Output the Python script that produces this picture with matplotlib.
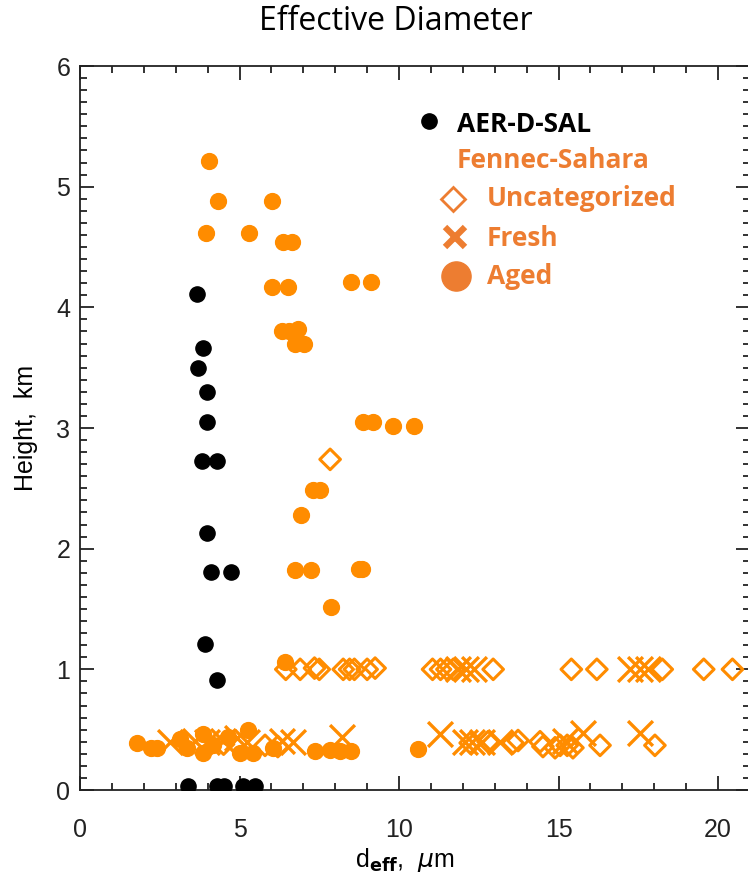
import matplotlib
matplotlib.use("Agg")
import matplotlib.pyplot as plt
from matplotlib.ticker import MultipleLocator

# ---------------- data ----------------
# AER-D-SAL (black)
sal_x = [3.67, 3.86, 3.70, 3.98, 3.98, 3.82, 4.29, 3.98, 4.11, 4.73, 3.92, 4.29,
         3.4, 4.3, 4.5, 5.1, 5.5]
sal_y = [4.11, 3.66, 3.50, 3.30, 3.05, 2.73, 2.73, 2.13, 1.81, 1.81, 1.21, 0.91,
         0.03, 0.03, 0.03, 0.03, 0.03]

# Fennec-Sahara aged (orange circles)
aged_x = [4.04, 4.33, 6.02, 3.95, 5.30, 6.36, 6.65, 6.02, 6.52, 8.50, 9.12,
          6.33, 6.55, 6.83, 6.74, 7.02, 8.87, 9.18, 9.81, 10.47,
          7.30, 7.52, 6.93, 6.74, 7.24, 8.75, 8.84, 7.87, 6.43,
          1.79, 2.22, 2.41, 3.13, 3.35, 3.86, 3.86, 4.17, 4.64, 5.02, 5.27, 5.42,
          6.05, 7.37, 7.84, 8.15, 8.50, 10.6]
aged_y = [5.21, 4.88, 4.88, 4.62, 4.62, 4.54, 4.54, 4.17, 4.17, 4.21, 4.21,
          3.80, 3.80, 3.82, 3.70, 3.70, 3.05, 3.05, 3.02, 3.02,
          2.49, 2.49, 2.28, 1.82, 1.82, 1.83, 1.83, 1.52, 1.06,
          0.39, 0.35, 0.35, 0.42, 0.35, 0.46, 0.31, 0.37, 0.44, 0.31, 0.50, 0.31,
          0.35, 0.32, 0.33, 0.32, 0.32, 0.34]

# Fennec-Sahara fresh (orange crosses)
fresh_x = [11.85, 12.1, 12.35, 17.25, 17.55, 17.8,
           2.82, 3.60, 3.98, 4.48, 4.92, 5.23, 6.33, 6.68, 8.21,
           11.29, 12.07, 12.29, 12.6, 13.17, 15.2, 15.77, 17.55]
fresh_y = [1.0, 1.0, 1.0, 1.0, 1.0, 1.0,
           0.40, 0.41, 0.40, 0.41, 0.43, 0.40, 0.41, 0.40, 0.44,
           0.46, 0.40, 0.40, 0.40, 0.40, 0.41, 0.47, 0.47]

# Fennec-Sahara uncategorized (orange open diamonds)
unc_x = [7.84,
         6.45, 6.90, 7.35, 7.50, 8.25, 8.45, 8.60, 9.00, 9.25, 11.05, 11.30, 11.50,
         11.70, 12.95, 15.40, 16.20, 18.25, 19.55, 20.45,
         4.5, 5.8, 6.2,
         12.23, 12.79, 13.57, 13.73, 14.42, 14.51, 14.89, 15.05, 15.27, 15.45,
         16.30, 18.02]
unc_y = [2.74,
         1.0, 1.0, 1.01, 1.0, 1.0, 1.0, 1.0, 1.0, 1.01, 1.0, 1.0, 1.0,
         1.0, 1.0, 1.0, 1.0, 1.0, 1.0, 1.0,
         0.38, 0.37, 0.36,
         0.39, 0.40, 0.39, 0.41, 0.40, 0.36, 0.35, 0.37, 0.37, 0.35,
         0.37, 0.37]

ORANGE = "#FF8C00"
LEG_ORANGE = "#ED7D31"

fig = plt.figure(figsize=(7.48, 8.74), dpi=100)
W, H = 748, 874
AX_L, AX_R, AX_T, AX_B = 80, 750, 66, 790
ax = fig.add_axes([AX_L / W, 1 - AX_B / H, (AX_R - AX_L) / W, (AX_B - AX_T) / H])

ax.scatter(unc_x, unc_y, marker="D", s=110, facecolors="none",
           edgecolors=ORANGE, linewidths=2.2, zorder=3)
ax.scatter(aged_x, aged_y, marker="o", s=130, color=ORANGE,
           edgecolors=ORANGE, zorder=4)
ax.scatter(fresh_x, fresh_y, marker="x", s=320, color=ORANGE,
           linewidths=2.4, zorder=5)
ax.scatter(sal_x, sal_y, marker="o", s=120, color="black", zorder=6)

ax.set_xlim(0, 21)
ax.set_ylim(0, 6)
ax.xaxis.set_major_locator(MultipleLocator(5))
ax.xaxis.set_minor_locator(MultipleLocator(1))
ax.yaxis.set_major_locator(MultipleLocator(1))
ax.yaxis.set_minor_locator(MultipleLocator(0.1))
ax.tick_params(which="both", direction="in", top=True, right=True,
               width=1.3, colors="#222222")
ax.tick_params(which="major", length=10)
ax.tick_params(which="minor", length=5)
ax.tick_params(axis="x", which="major", pad=20, labelsize=18)
ax.tick_params(axis="y", which="major", pad=7, labelsize=18)
for lab in ax.get_xticklabels() + ax.get_yticklabels():
    lab.set_fontfamily("Liberation Sans")
for sp in ax.spines.values():
    sp.set_linewidth(1.3)
    sp.set_color("#222222")

ax.set_xlabel(r"d$_{\mathbf{eff}}$,  $\mu$m", fontsize=18,
              family="Liberation Sans")
ax.set_ylabel("Height,  km", fontsize=18, family="Liberation Sans")
axw, axh = AX_R - AX_L, AX_B - AX_T
ax.xaxis.set_label_coords((405 - AX_L) / axw, -(860 - AX_B) / axh)
ax.xaxis.label.set_va("center")
ax.yaxis.set_label_coords(-(AX_L - 26) / axw, 0.5)
ax.yaxis.label.set_va("center")

fig.text(396 / W, 1 - 22 / H, "Effective Diameter", ha="center", va="center",
         fontsize=23, family="Open Sans")

# legend (manual)
def fx(px):
    return px / W

def fy(py):
    return 1 - py / H

leg_font = dict(family="Open Sans", fontweight="bold", fontsize=19,
                va="center", ha="left")
fig.add_artist(plt.Line2D([fx(429)], [fy(121)], marker="o", markersize=11,
                          color="black", linestyle="none"))
fig.text(fx(457), fy(124), "AER-D-SAL", color="black", **leg_font)
fig.text(fx(457), fy(161), "Fennec-Sahara", color=LEG_ORANGE, **leg_font)
fig.add_artist(plt.Line2D([fx(453)], [fy(199)], marker="D", markersize=12,
                          markerfacecolor="none", markeredgecolor=LEG_ORANGE,
                          markeredgewidth=2, linestyle="none"))
fig.text(fx(487), fy(199), "Uncategorized", color=LEG_ORANGE, **leg_font)
fig.add_artist(plt.Line2D([fx(455)], [fy(237)], marker="x", markersize=15,
                          markeredgecolor=LEG_ORANGE, markeredgewidth=4.5,
                          linestyle="none"))
fig.text(fx(487), fy(238), "Fresh", color=LEG_ORANGE, **leg_font)
fig.add_artist(plt.Line2D([fx(456)], [fy(276)], marker="o", markersize=21,
                          color=LEG_ORANGE, linestyle="none"))
fig.text(fx(487), fy(276), "Aged", color=LEG_ORANGE, **leg_font)

fig.savefig("out.png", dpi=100)
